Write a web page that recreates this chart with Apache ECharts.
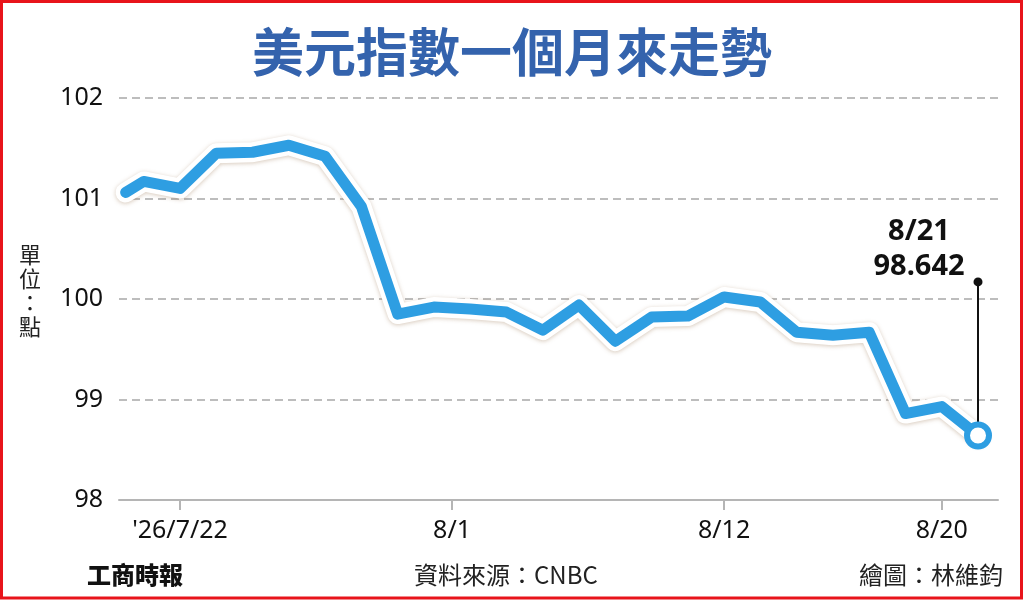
<!DOCTYPE html>
<html><head><meta charset="utf-8">
<script src="https://cdn.jsdelivr.net/npm/echarts@6/dist/echarts.min.js"></script>
<style>html,body{margin:0;padding:0;background:#fff}#c{width:1024px;height:600px}</style>
</head><body><div id="c"></div>
<script>
const dates = ['7/20','7/21','7/22','7/23','7/24','7/27','7/28','7/29','7/30','7/31','8/3','8/4','8/5','8/6','8/7','8/10','8/11','8/12','8/13','8/14','8/17','8/18','8/19','8/20','8/21'];
const values = [101.06,101.17,101.10,101.45,101.46,101.53,101.42,100.92,99.85,99.92,99.90,99.87,99.69,99.94,99.58,99.82,99.83,100.02,99.97,99.67,99.64,99.67,98.86,98.93,98.642];
const tickDates = ['7/22','8/1','8/12','8/20'];
const tickLabels = ["'26/7/22",'8/1','8/12','8/20'];
const yMin = 98, yMax = 102, yStep = 1;
const annotTop = 100.17;

function dayNum(d){const [m,dd]=d.split('/').map(Number);return m*31+dd;}
function posOf(d){
  const i = dates.indexOf(d);
  if (i >= 0) return i;
  const n = dayNum(d);
  let k = 0; while (k < dates.length && dayNum(dates[k]) < n) k++;
  return k - 0.5;
}
const tickPos = tickDates.map(posOf);
// first sample of the window (7/20) starts half a session in
const xs = dates.map((d,i)=> i===0 ? 0.5 : i);
const pts = values.map((v,i)=>[xs[i],v]);
const lastI = values.length-1, lastV = values[lastI];
const BLUE = '#2e9ee2';
const NUM = '"Noto Sans", "Noto Sans CJK TC", sans-serif';
const CJK = '"Noto Sans CJK TC", sans-serif';

const chart = echarts.init(document.getElementById('c'), null, {renderer:'canvas'});
chart.setOption({
  animation:false,
  backgroundColor:'#fff',
  title:{text:'美元指數一個月來走勢', left:'center', top:21,
    textStyle:{fontSize:52, fontWeight:'bold', color:'#3463ad', fontFamily:CJK}},
  grid:{left:119, right:26, top:98, bottom:100},
  xAxis:{type:'value', min:0.318, max:24.551,
    axisLine:{show:true, onZero:false, lineStyle:{color:'#b5b5b5', width:2}},
    axisTick:{show:true, customValues:tickPos, length:10, lineStyle:{color:'#b5b5b5', width:2}},
    axisLabel:{customValues:tickPos, margin:18, fontSize:25, color:'#111', fontFamily:NUM,
      formatter:(v)=>{const k=tickPos.findIndex(p=>Math.abs(p-v)<1e-6);return k>=0?tickLabels[k]:'';}},
    splitLine:{show:false}},
  yAxis:{type:'value', min:yMin, max:yMax, interval:yStep,
    axisLine:{show:false}, axisTick:{show:false},
    axisLabel:{margin:16, fontSize:25, color:'#111', fontFamily:NUM},
    splitLine:{show:true, lineStyle:{color:'#bdbdbd', width:2, type:[8,5]}}},
  series:[
    {type:'line', data:pts, symbol:'none', silent:true, z:2, clip:false,
      lineStyle:{color:'#fff', width:20, join:'round', cap:'round',
        shadowColor:'rgba(140,100,60,0.35)', shadowBlur:4, shadowOffsetY:1}},
    {type:'line', data:pts, symbol:'none', silent:true, z:3, clip:false,
      lineStyle:{color:BLUE, width:11, join:'round', cap:'round'},
      markLine:{silent:true, symbol:['none','circle'], symbolSize:9,
        lineStyle:{color:'#111', width:2, type:'solid'}, label:{show:false},
        itemStyle:{color:'#111'},
        data:[[{coord:[xs[lastI],lastV]},{coord:[xs[lastI],annotTop]}]]},
      markPoint:{silent:true, symbol:'circle', symbolSize:0,
        data:[{coord:[xs[lastI],annotTop]}],
        label:{show:true, position:'inside', offset:[-59,-33], align:'center',
          fontSize:29, fontWeight:'bold', lineHeight:35, color:'#111', fontFamily:NUM,
          formatter:()=>dates[lastI]+'\n'+lastV.toFixed(3)}}},
    {type:'scatter', data:[[xs[lastI],lastV]], symbol:'circle', symbolSize:22, z:10,
      itemStyle:{color:'#fff', borderColor:BLUE, borderWidth:6, opacity:1}}
  ],
  graphic:[
    {type:'text', left:19, top:243, style:{text:'單\n位\n：\n點', font:'22px '+CJK, fill:'#222', lineHeight:24, align:'center'}},
    {type:'text', left:87, top:563, style:{text:'工商時報', font:'900 24px '+CJK, fill:'#111'}},
    {type:'text', left:414, top:563, style:{text:'資料來源：CNBC', font:'24px '+CJK, fill:'#222'}},
    {type:'text', right:21, top:563, style:{text:'繪圖：林維鈞', font:'24px '+CJK, fill:'#222'}},
    {type:'rect', shape:{x:1.5,y:1.5,width:1020,height:596.5}, style:{fill:'none', stroke:'#e8141b', lineWidth:3}, z:100}
  ]
});
</script></body></html>
